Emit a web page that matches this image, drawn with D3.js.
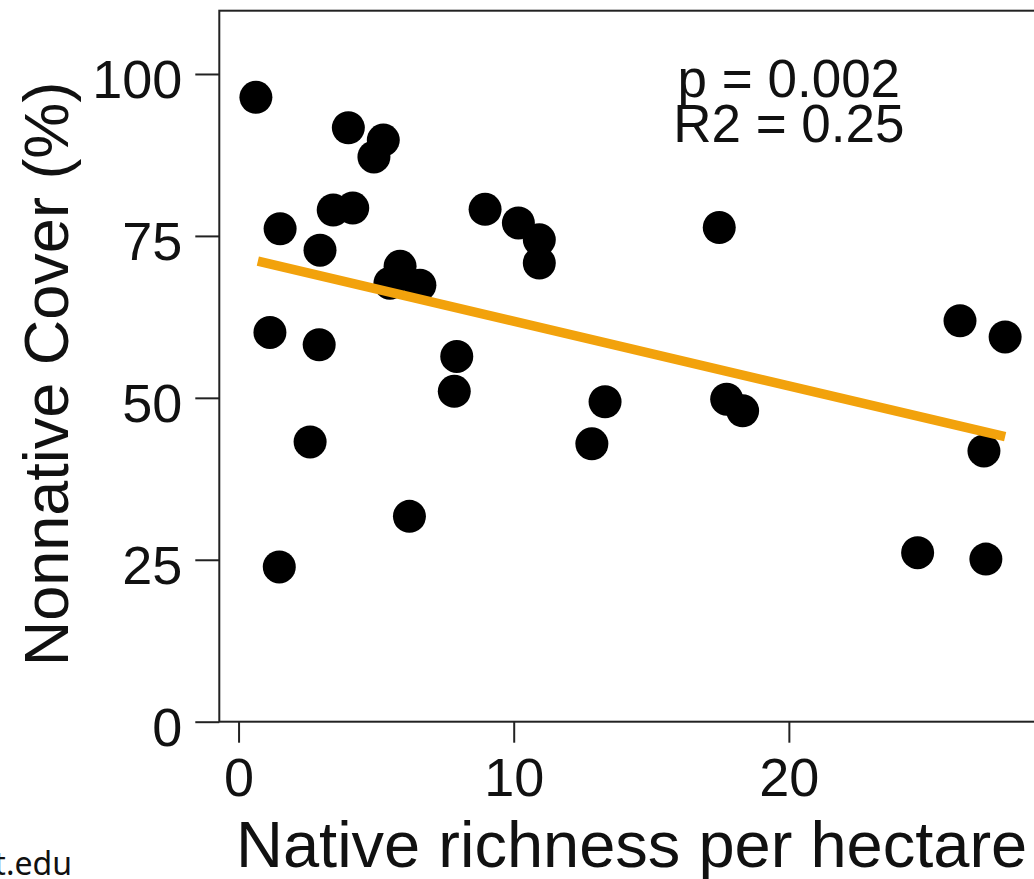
<!DOCTYPE html>
<html>
<head>
<meta charset="utf-8">
<script src="https://cdn.jsdelivr.net/npm/d3@7"></script>
<style>
  html, body { margin: 0; padding: 0; background: #fff; }
  svg { display: block; }
  text { font-family: "Liberation Sans", Arial, sans-serif; fill: #111; }
</style>
</head>
<body>
<script>
// ---- data ----
const richness = [0.63, 1.51, 1.14, 1.48, 2.60, 2.96, 2.93, 3.44, 4.15, 3.99, 5.26, 4.92, 5.87, 5.50, 6.59, 6.21,
                  7.93, 7.84, 8.96, 10.17, 10.93, 10.93, 12.84, 13.32, 17.47, 17.74, 18.32, 24.68, 26.22, 27.86, 27.09, 27.16];
const cover    = [96.4, 76.1, 60.1, 23.9, 43.2, 72.8, 58.2, 79.0, 79.3, 91.7, 89.8, 87.2, 70.3, 67.7, 67.4, 31.7,
                  56.4, 51.0, 79.1, 77.0, 74.4, 70.8, 42.9, 49.4, 76.3, 49.8, 48.0, 26.1, 61.9, 59.4, 41.8, 25.1];
const fitX = [0.7, 27.86];
const fitY = [71.1, 44.0];
const xTicks = [0, 10, 20];
const yTicks = [0, 25, 50, 75, 100];
const statLines = ["p = 0.002", "R2 = 0.25"];
const xTitle = "Native richness per hectare";
const yTitle = "Nonnative Cover (%)";
const footer = "t.edu";

// ---- layout ----
const W = 1034, H = 879;
const box = { left: 219.3, right: 1042, top: 10.7, bottom: 721.7 };

const svg = d3.select("body").append("svg").attr("width", W).attr("height", H);

const x = d3.scaleLinear().domain([-0.7, 29.2]).range([box.left, box.right]);
const y = d3.scaleLinear().domain([0, 109.77]).range([box.bottom, box.top]);

// points
const pts = richness.map((r, i) => ({ r, c: cover[i] }));
svg.append("g").selectAll("circle").data(pts).enter().append("circle")
  .attr("cx", d => x(d.r)).attr("cy", d => y(d.c)).attr("r", 16.5).attr("fill", "#000");

// fit line
const fit = fitX.map((v, i) => [v, fitY[i]]);
svg.append("path").datum(fit)
  .attr("d", d3.line().x(d => x(d[0])).y(d => y(d[1])))
  .attr("stroke", "#F2A20C").attr("stroke-width", 9.5).attr("fill", "none");

// box
svg.append("rect").attr("x", box.left).attr("y", box.top)
  .attr("width", box.right - box.left).attr("height", box.bottom - box.top)
  .attr("fill", "none").attr("stroke", "#222").attr("stroke-width", 2);

// y axis
const yAxis = d3.axisLeft(y).tickValues(yTicks).tickSize(24).tickPadding(13).tickFormat(d3.format("d"));
const gy = svg.append("g").attr("transform", `translate(${box.left},0)`).call(yAxis);
gy.select(".domain").remove();
gy.selectAll(".tick line").attr("stroke", "#222").attr("stroke-width", 2);
gy.selectAll(".tick text").style("font-size", "54px").style("font-family", "Liberation Sans, Arial, sans-serif")
  .style("fill", "#111").attr("dy", "0.44em");

// x axis
const xAxis = d3.axisBottom(x).tickValues(xTicks).tickSize(21).tickPadding(15).tickFormat(d3.format("d"));
const gx = svg.append("g").attr("transform", `translate(0,${box.bottom})`).call(xAxis);
gx.select(".domain").remove();
gx.selectAll(".tick line").attr("stroke", "#222").attr("stroke-width", 2);
gx.selectAll(".tick text").style("font-size", "54px").style("font-family", "Liberation Sans, Arial, sans-serif")
  .style("fill", "#111");

// titles
svg.append("text").attr("x", 236).attr("y", 867).style("font-size", "65px").text(xTitle);
svg.append("text").attr("transform", "translate(68,374) rotate(-90)").attr("text-anchor", "middle")
  .style("font-size", "63px").text(yTitle);

// stats
svg.append("g").selectAll("text").data(statLines).enter().append("text")
  .attr("x", x(20)).attr("y", (d, i) => 97 + i * 45).attr("text-anchor", "middle")
  .style("font-size", "53px").text(d => d);

// footer fragment
svg.append("text").attr("x", 72).attr("y", 875).attr("text-anchor", "end")
  .style("font-family", "'Noto Sans', 'Open Sans', sans-serif").style("font-size", "32px").text(footer);
</script>
</body>
</html>
